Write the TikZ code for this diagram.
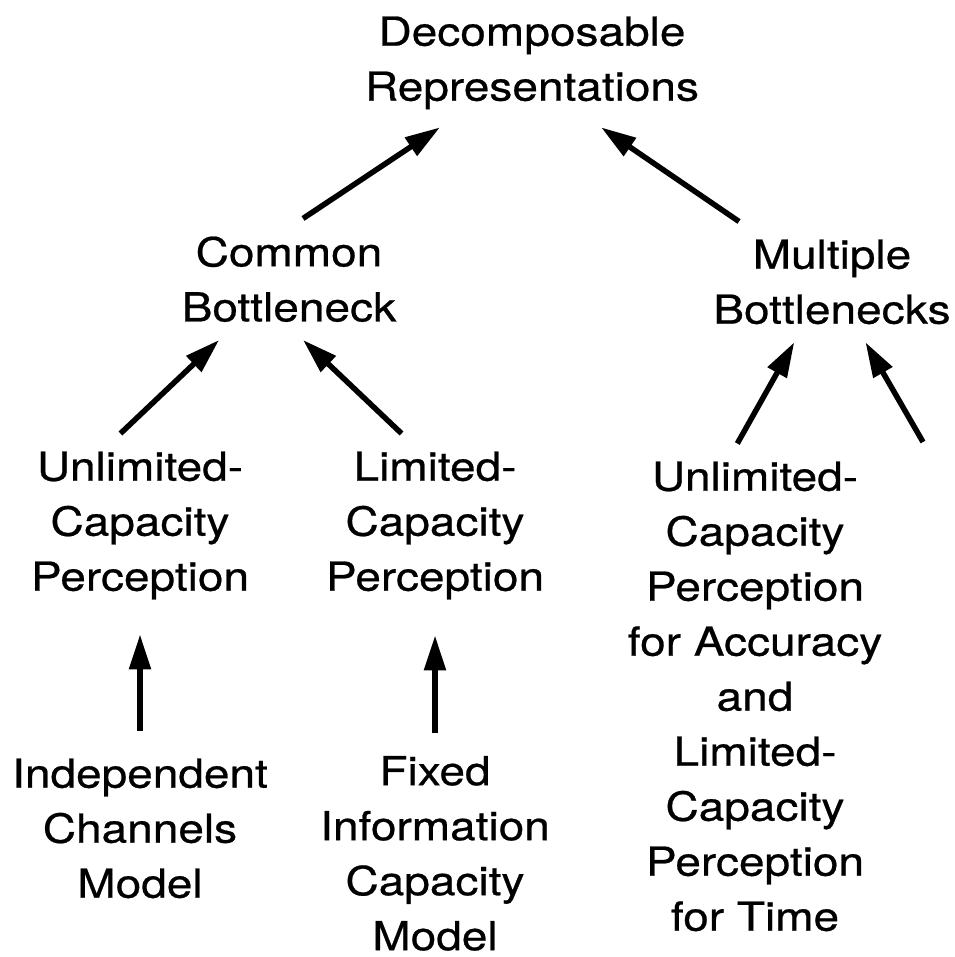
\documentclass[tikz,border=0pt]{standalone}
\usepackage{fontspec}
\setmainfont{TeX Gyre Heros}[FakeStretch=1.15, FakeBold=0.6]
\usetikzlibrary{arrows.meta}

\begin{document}
\begin{tikzpicture}[every node/.style={font=\fontsize{22.76pt}{31.3pt}\selectfont, align=center, anchor=north, inner sep=0pt, outer xsep=0pt, outer ysep=0.36cm}, >={Triangle[length=7mm,width=4.2mm]}, link/.style={->, line width=1.1mm}]
	\useasboundingbox (0,0) rectangle (19.08,-19.14);
	\node (top) at (10.64,0.03) {Decomposable\\Representations};
	\node (cb) at (5.78,-4.37) {Common\\Bottleneck};
	\node (mb) at (16.64,-4.43) {Multiple\\Bottlenecks};
	\node (ucp) at (2.8,-8.67) {Unlimited-\\Capacity\\Perception};
	\node (lcp) at (8.7,-8.67) {Limited-\\Capacity\\Perception};
	\node (mix) at (15.1,-8.87) {Unlimited-\\Capacity\\Perception\\for Accuracy\\and\\Limited-\\Capacity\\Perception\\for Time};
	\node (ic) at (2.8,-14.81) {Independent\\Channels\\Model};
	\node (fic) at (8.7,-14.76) {Fixed\\Information\\Capacity\\Model};
	\coordinate (free) at (18.46,-8.84);
	\draw[link] (cb.77.7) -- (top.215.4);
	\draw[link] (mb.147.8) -- (top.-43.3);
	\draw[link] (ucp.102.3) -- (cb.221.8);
	\draw[link] (lcp.110.9) -- (cb.-77.7);
	\draw[link] (mix.94.5) -- (mb.238.3);
	\draw[link] (free) -- (mb.-61.1);
	\draw[link, shorten >=0.34cm, shorten <=0.2cm] (ic.north) -- (ucp.south);
	\draw[link, shorten >=0.36cm, shorten <=0.1cm] (fic.north) -- (lcp.south);
\end{tikzpicture}
\end{document}
